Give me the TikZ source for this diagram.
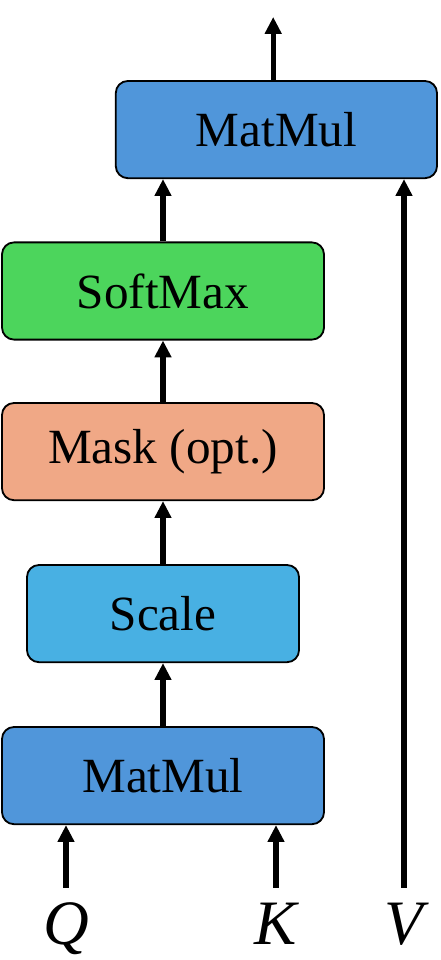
\documentclass[tikz,border=0pt]{standalone}
\usepackage{fontspec}
\setmainfont{Liberation Serif}
\usepackage{tikz}
\usetikzlibrary{arrows.meta}
\usepackage{xcolor}

\definecolor{mulblue}{RGB}{80,150,218}
\definecolor{softgreen}{RGB}{76,213,92}
\definecolor{masksalmon}{RGB}{240,168,134}
\definecolor{scaleblue}{RGB}{72,176,227}

\begin{document}
\begin{tikzpicture}[
    block/.style={rectangle, rounded corners=0.3cm, draw, line width=1.3pt, minimum height=2.43cm, font=\fontsize{35}{42}\selectfont},
    flow/.style={line width=3.6pt, -{Triangle[length=0.42cm, width=0.4cm]}},
    inlabel/.style={anchor=base, font=\fontsize{45}{54}\selectfont\itshape}
  ]
          % Variables
          \def \wide   {8.05}
          \def \qx     {1.65}
          \def \kx     {6.9}
          \def \vx     {10.1}
          \def \iny    {1.8}

          \useasboundingbox (0,0) rectangle (11,24);

          % Blocks
          \node[block, fill=mulblue, minimum width=\wide cm] (mulbot) at (4.075,4.61) {MatMul};
          \node[block, fill=scaleblue, minimum width=6.8cm] (scale) at (4.075,8.66) {Scale};
          \node[block, fill=masksalmon, minimum width=\wide cm] (mask) at (4.075,12.71) {Mask (opt.)};
          \node[block, fill=softgreen, minimum width=\wide cm] (softmax) at (4.075,16.725) {SoftMax};
          \node[block, fill=mulblue, minimum width=8.03cm] (multop) at (6.91,20.76) {MatMul};

          % Inputs
          \node[inlabel] (q) at (\qx,0.375) {Q};
          \node[inlabel] (k) at (\kx,0.375) {K};
          \node[inlabel] (v) at (\vx,0.375) {V};
          \coordinate (qin) at (\qx,\iny);
          \coordinate (kin) at (\kx,\iny);
          \coordinate (vin) at (\vx,\iny);
          \coordinate (out) at (6.83,23.575);

          % Arrows
          \draw[flow] (qin) -- (qin |- mulbot.south);
          \draw[flow] (kin) -- (kin |- mulbot.south);
          \draw[flow] (mulbot) -- (scale);
          \draw[flow] (scale) -- (mask);
          \draw[flow] (mask) -- (softmax);
          \draw[flow] (softmax.north) -- (softmax.north |- multop.south);
          \draw[flow] (vin) -- (vin |- multop.south);
          \draw[flow] (out |- multop.north) -- (out);

        \end{tikzpicture}
\end{document}
